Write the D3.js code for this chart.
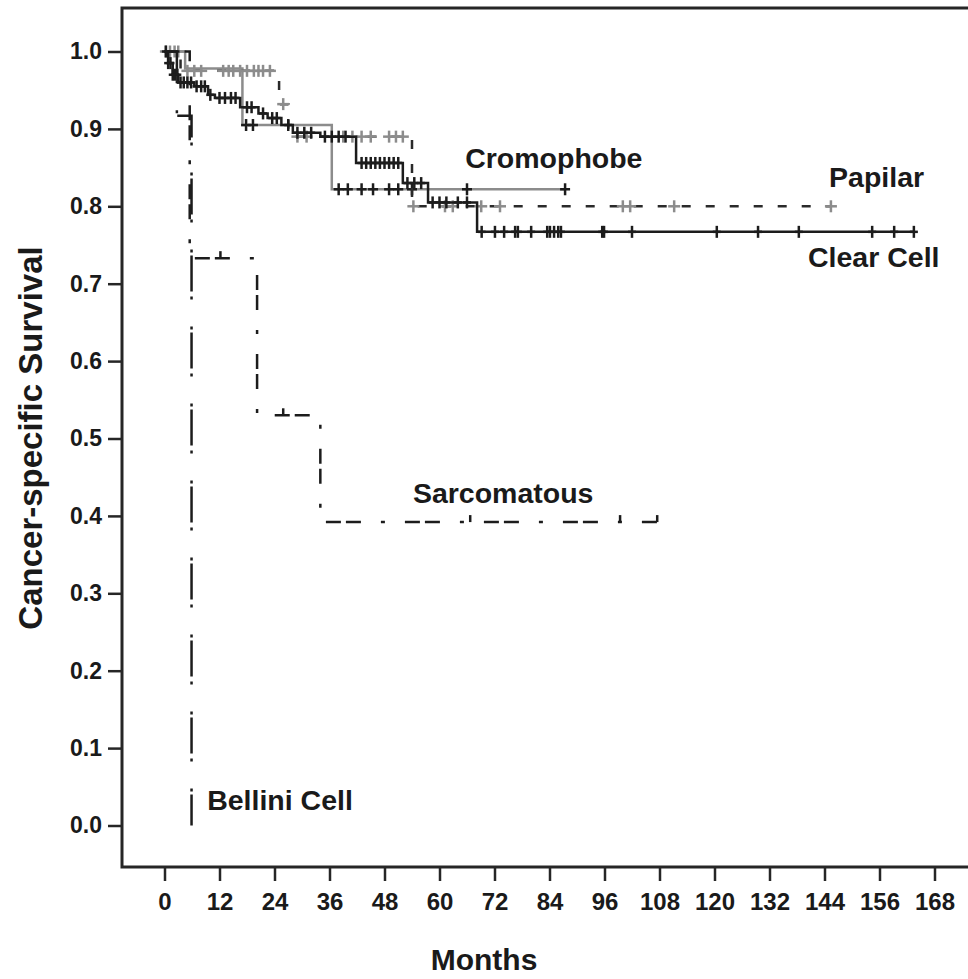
<!DOCTYPE html>
<html>
<head>
<meta charset="utf-8">
<script src="https://cdn.jsdelivr.net/npm/d3@7"></script>
<style>
  html, body { margin: 0; padding: 0; background: #fff; }
  svg { display: block; }
  text { font-family: "Liberation Sans", Arial, Helvetica, sans-serif; font-weight: bold; fill: #1a1a1a; }
</style>
</head>
<body>
<svg id="chart" width="968" height="979"></svg>
<script>
// ---------------- data ----------------
const xTicks = [0, 12, 24, 36, 48, 60, 72, 84, 96, 108, 120, 132, 144, 156, 168];
const yTicks = [0.0, 0.1, 0.2, 0.3, 0.4, 0.5, 0.6, 0.7, 0.8, 0.9, 1.0];

// Clear Cell
const clearTime = [0, 0.8, 1.8, 3, 6.5, 9.5, 11, 16.5, 20.5, 22.5, 25.5, 28, 34, 41.8, 52, 57.5, 68.2];
const clearSurv = [1.0, 0.985, 0.97, 0.96, 0.955, 0.944, 0.94, 0.928, 0.92, 0.914, 0.905, 0.895, 0.89, 0.856, 0.83, 0.805, 0.767];
const clearEnd = 163.5;
const clearCensor = [0.3, 0.8, 1.3, 1.8, 2.3, 2.8, 3.5, 4.2, 5, 5.8, 7, 8, 8.8, 10, 12, 13.2, 14.5, 15.5, 18, 19, 21.5, 23.5, 24.5, 27, 29, 30.5, 32, 35, 36.5, 38, 39.5, 43, 44, 45, 46, 47, 48, 49, 50, 51, 53, 54.5, 56, 58.5, 60, 61.5, 64, 66, 69.2, 72.1, 74.1, 76.5, 77.1, 80, 83.5, 84.1, 85, 85.9, 86.5, 95.5, 95.9, 102, 120.5, 129.5, 138.4, 154.4, 159.2, 163.5];

// Cromophobe
const cromoTime = [0, 4.5, 17, 36.5];
const cromoSurv = [1.0, 0.978, 0.905, 0.822];
const cromoEnd = 87.4;
const cromoCensor = [17.8, 19.3, 38, 40, 43, 45.5, 49, 51, 54, 66, 87.4];

// Papilar
const papTime = [0, 3.5, 25, 27, 54];
const papSurv = [1.0, 0.975, 0.932, 0.89, 0.80];
const papEnd = 145.4;
const papCensor = [0.3, 1.2, 2.2, 3, 5, 6.5, 8, 12.8, 14, 15, 16.5, 18, 19.5, 20.5, 21.5, 23, 25.9, 29, 31, 39, 41, 43, 45, 49, 50.5, 52, 54.3, 61.2, 62.9, 69.1, 73.2, 100, 101.6, 111.2, 145.4];

// Sarcomatous
const sarcTime = [0, 5.5, 20.2, 34];
const sarcSurv = [1.0, 0.733, 0.530, 0.392];
const sarcEnd = 107.5;
const sarcCensor = [12.2, 25.9, 66.7, 99.4, 107.5];

// Bellini Cell
const belTime = [0, 2.7, 5.9];
const belSurv = [1.0, 0.917, 0.0];
const belEnd = 5.9;

// curve labels: left edge (months) and baseline (survival)
const labels = [
  {text: "Cromophobe", t: 65.6, s: 0.849},
  {text: "Papilar", t: 145.0, s: 0.825},
  {text: "Clear Cell", t: 140.4, s: 0.721},
  {text: "Sarcomatous", t: 54.2, s: 0.417},
  {text: "Bellini Cell", t: 9.3, s: 0.02}
];

// ---------------- layout ----------------
const svg = d3.select("#chart");
const frame = {left: 122, top: 8, right: 972, bottom: 867};
const x = d3.scaleLinear().domain([0, 168]).range([164.5, 934.5]);
const y = d3.scaleLinear().domain([0, 1]).range([825.5, 51.5]);

// frame (left, top, bottom; right side runs off the image)
svg.append("path")
  .attr("d", `M${frame.right},${frame.top} H${frame.left} V${frame.bottom} H${frame.right}`)
  .attr("fill", "none").attr("stroke", "#262626").attr("stroke-width", 3);

// axes
const yAxis = svg.append("g").attr("transform", `translate(${frame.left},0)`)
  .call(d3.axisLeft(y).tickValues(yTicks).tickSize(14).tickPadding(6).tickFormat(d3.format(".1f")));
yAxis.select(".domain").remove();
yAxis.selectAll("line").attr("stroke", "#262626").attr("stroke-width", 2.5);
yAxis.selectAll("text").attr("font-size", 23).attr("font-family", null).attr("fill", "#1a1a1a");

const xAxis = svg.append("g").attr("transform", `translate(0,${frame.bottom})`)
  .call(d3.axisBottom(x).tickValues(xTicks).tickSize(14).tickPadding(12).tickFormat(d3.format("d")));
xAxis.select(".domain").remove();
xAxis.selectAll("line").attr("stroke", "#262626").attr("stroke-width", 2.5);
xAxis.selectAll("text").attr("font-size", 24).attr("font-family", null).attr("fill", "#1a1a1a");

// axis titles
svg.append("text").attr("x", 484).attr("y", 970).attr("text-anchor", "middle")
  .attr("font-size", 30).text("Months");
svg.append("text").attr("transform", "translate(42,438) rotate(-90)").attr("text-anchor", "middle")
  .attr("font-size", 33).text("Cancer-specific Survival");

// ---------------- curves ----------------
const line = d3.line().x(d => x(d[0])).y(d => y(d[1])).curve(d3.curveStepAfter);
function pts(times, surv, end) {
  const p = times.map((t, i) => [t, surv[i]]);
  const last = p[p.length - 1];
  if (end > last[0]) p.push([end, last[1]]);
  return p;
}
function survAt(times, surv, t) {
  let v = surv[0];
  for (let i = 0; i < times.length; i++) if (times[i] <= t) v = surv[i];
  return v;
}
function curve(times, surv, end, color, dash, width) {
  svg.append("path").attr("d", line(pts(times, surv, end)))
    .attr("fill", "none").attr("stroke", color).attr("stroke-width", width || 2.5)
    .attr("stroke-dasharray", dash || null);
}
function plus(times, surv, cens, color, hw, hh) {
  const g = svg.append("g").attr("stroke", color).attr("stroke-width", 2.5);
  cens.forEach(t => {
    const cx = x(t), cy = y(survAt(times, surv, t));
    g.append("line").attr("x1", cx).attr("x2", cx).attr("y1", cy - hh).attr("y2", cy + hh);
    if (hw > 0) g.append("line").attr("x1", cx - hw).attr("x2", cx + hw).attr("y1", cy).attr("y2", cy);
  });
}
function tick(times, surv, cens, color) {
  const g = svg.append("g").attr("stroke", color).attr("stroke-width", 2.5);
  cens.forEach(t => {
    const cx = x(t), cy = y(survAt(times, surv, t));
    g.append("line").attr("x1", cx).attr("x2", cx).attr("y1", cy - 7).attr("y2", cy);
  });
}

const gray = "#8c8c8c", black = "#1c1c1c";

// Cromophobe (gray solid)
curve(cromoTime, cromoSurv, cromoEnd, gray, null, 2.5);
plus(cromoTime, cromoSurv, cromoCensor, black, 5, 6);

// Papilar (dark dashed, gray censors)
curve(papTime, papSurv, papEnd, "#2a2a2a", "9,15", 2.5);
plus(papTime, papSurv, papCensor, gray, 6, 6);

// Clear Cell (black solid)
curve(clearTime, clearSurv, clearEnd, black, null, 2.5);
plus(clearTime, clearSurv, clearCensor, black, 4, 6);

// Sarcomatous
curve(sarcTime, sarcSurv, sarcEnd, black, "15,5,15,20,4,20", 2.5);
tick(sarcTime, sarcSurv, sarcCensor, black);

// Bellini Cell (dash-dot)
curve(belTime, belSurv, belEnd, black, "36,5,3,27,3,3", 2.5);

// ---------------- labels ----------------
svg.selectAll("text.lbl").data(labels).join("text").attr("class", "lbl")
  .attr("x", d => x(d.t)).attr("y", d => y(d.s)).attr("text-anchor", "start")
  .attr("font-size", 28.5).text(d => d.text);
</script>
</body>
</html>
